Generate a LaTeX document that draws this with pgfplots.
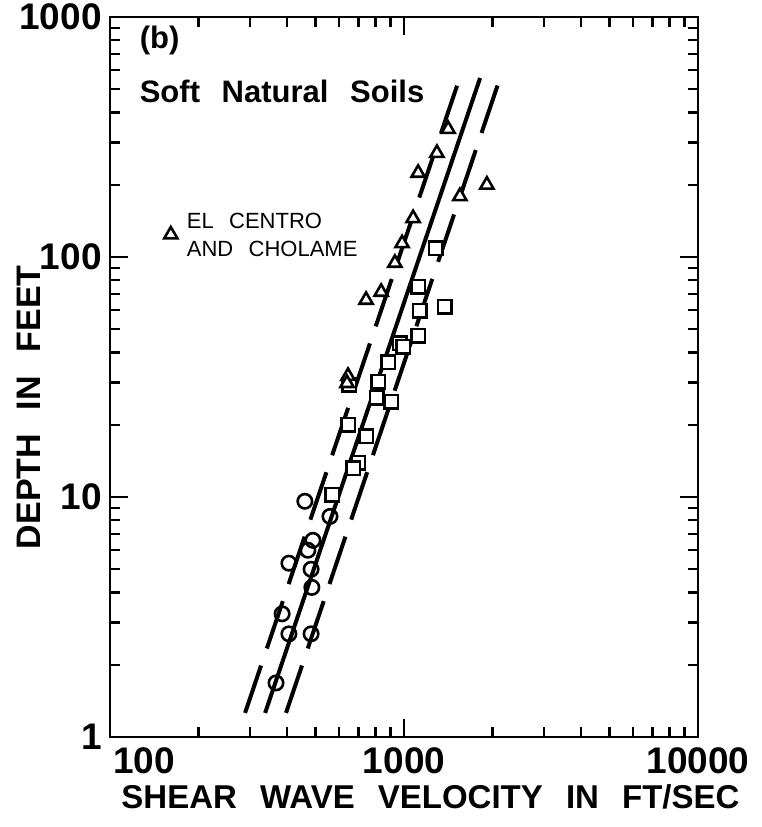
\documentclass[border=0pt]{standalone}
\usepackage{pgfplots}
\pgfplotsset{compat=1.18}
\usepackage{fontspec}
\setmainfont{Liberation Sans}
\usetikzlibrary{calc}
\begin{document}
\begin{tikzpicture}
\begin{axis}[
  xmode=log, ymode=log,
  scale only axis, width=294pt, height=360pt,
  xmin=100, xmax=10000, ymin=1, ymax=1000,
  axis line style={line width=1.2pt},
  every tick/.style={line width=1.1pt, black},
  major tick length=9pt, minor tick length=5pt,
  tick align=inside,
  xtick={100,1000,10000}, ytick={1,10,100,1000},
  minor xtick={200,300,400,500,600,700,800,900,2000,3000,4000,5000,6000,7000,8000,9000},
  minor ytick={2,3,4,5,6,7,8,9,20,30,40,50,60,70,80,90,200,300,400,500,600,700,800,900},
  xticklabels={\hspace*{34pt}100,1000,10000},
  yticklabels={1,10,100,1000},
  /pgf/number format/assume math mode=true,
  ticklabel style={font=\fontsize{18.5}{20}\selectfont\bfseries},
  xticklabel style={inner sep=1pt, yshift=-4pt},
  yticklabel style={inner sep=1pt, xshift=-3pt},
  xlabel={SHEAR\hspace{0.7em}WAVE\hspace{0.7em}VELOCITY\hspace{0.7em}IN\hspace{0.7em}FT/SEC},
  ylabel={DEPTH\hspace{0.7em}IN\hspace{0.7em}FEET},
  xlabel style={font=\fontsize{16.5}{20}\selectfont\bfseries, at={(axis description cs:0.545,-0.083)}, anchor=center},
  ylabel style={font=\fontsize{17}{20}\selectfont\bfseries, at={(axis description cs:-0.138,0.458)}, anchor=center},
  clip=false,
]
% fitted line and bounds
\addplot[black, line width=2pt, dash pattern=on 25pt off 9pt] coordinates {(288,1.26) (1538,546)};
\addplot[black, line width=2pt] coordinates {(337,1.26) (1815,557)};
\addplot[black, line width=2pt, dash pattern=on 25pt off 9pt] coordinates {(397,1.26) (2122,557)};
% circles
\addplot[only marks, mark=o, mark size=3.6pt, mark options={line width=1.3pt, fill=white, draw=black}] coordinates {
(460,9.6) (560,8.3) (490,6.6) (471,6.0) (406,5.3) (483,5.0) (486,4.2) (385,3.26) (406,2.69) (483,2.69) (367,1.68)};
% squares
\addplot[only marks, mark=square*, mark size=3.4pt, mark options={line width=1.3pt, fill=white, draw=black}] coordinates {
(1377,61.9) (1133,59.6) (1117,75) (1284,109) (1117,46.9) (968,43.8) (993,42.2) (883,36.5) (816,30.2) (809,25.9) (904,24.9) (650,29.3) (645,20) (743,17.9) (698,13.9) (671,13.2) (569,10.2)};
% triangles
\addplot[only marks, mark=triangle*, mark size=3.8pt, mark options={line width=1.3pt, fill=white, draw=black}] coordinates {
(1413,341) (1294,271) (1117,224) (1549,179) (1914,200) (1074,145) (985,114) (931,94.4) (836,71.5) (743,66.2) (645,31.9) (640,29.8)};
% legend key
\addplot[only marks, mark=triangle*, mark size=3.8pt, mark options={line width=1.3pt, fill=white, draw=black}] coordinates {(161,124)};
\node[anchor=west, align=left, font=\fontsize{11}{14}\selectfont, inner sep=0pt] at (axis cs:182,124) {EL\hspace{0.7em}CENTRO\\AND\hspace{0.7em}CHOLAME};
\node[anchor=west, font=\fontsize{15.5}{18}\selectfont\bfseries, inner sep=0pt] at (rel axis cs:0.05,0.968) {(b)};
\node[anchor=west, font=\fontsize{15.5}{18}\selectfont\bfseries, inner sep=0pt] at (rel axis cs:0.05,0.896) {Soft\hspace{0.7em}Natural\hspace{0.7em}Soils};
\end{axis}
\pgfresetboundingbox
\path ($(current axis.south west)+(-55pt,-45pt)$) rectangle ($(current axis.north east)+(31.5pt,8.5pt)$);
\end{tikzpicture}
\end{document}
